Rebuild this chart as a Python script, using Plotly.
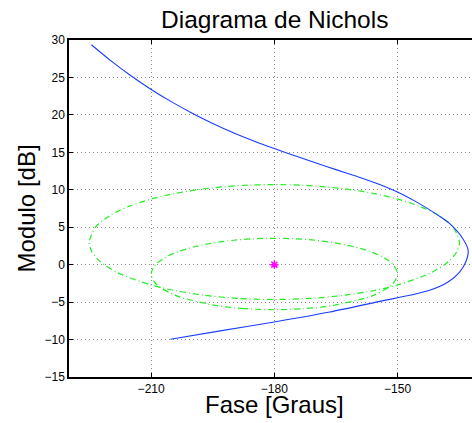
import plotly.graph_objects as go

# Open-loop frequency response (phase in degrees, magnitude in dB)
loop_phase = [-224.55, -220.0, -215.0, -210.0, -205.0, -200.0, -195.0, -190.0, -185.0,
              -180.0, -175.0, -170.0, -165.0, -160.0, -155.0, -150.0, -145.0, -140.0,
              -137.3, -134.1, -132.8, -133.4, -134.9, -137.7, -142.2, -147.0, -154.3,
              -166.5, -180.0, -192.8, -205.3]
loop_mag = [29.37, 27.32, 25.26, 23.40, 21.74, 20.23, 18.86, 17.62, 16.52,
            15.50, 14.53, 13.60, 12.69, 11.80, 10.85, 9.70, 8.25, 6.55,
            5.47, 3.47, 1.9, 0.35, -0.99, -2.32, -3.43, -4.09, -4.9,
            -6.32, -7.65, -8.81, -9.96]

# Outer dash-dot contour
outer_phase = [-180.0, -188.97, -197.23, -204.32, -210.10, -218.08, -222.46, -224.52, -225.07,
               -223.50, -219.94, -215.30, -210.03, -204.37, -198.45, -192.38, -186.21, -180.0,
               -173.79, -167.62, -161.55, -155.63, -149.97, -144.70, -140.06, -136.50, -134.93,
               -135.48, -137.54, -141.92, -149.90, -155.68, -162.77, -171.03, -180.0]
outer_mag = [-4.65, -4.50, -4.07, -3.45, -2.70, -1.10, 0.44, 1.82, 3.03,
             5.04, 6.59, 7.81, 8.75, 9.49, 10.03, 10.40, 10.62, 10.69,
             10.62, 10.40, 10.03, 9.49, 8.75, 7.81, 6.59, 5.04, 3.03,
             1.82, 0.44, -1.10, -2.70, -3.45, -4.07, -4.50, -4.65]

# Inner dash-dot contour
inner_phase = [-180.0, -187.37, -194.05, -203.8, -208.7, -210.0, -209.0, -206.57, -203.15,
               -199.1, -194.64, -189.9, -184.99, -180.0, -175.01, -170.1, -165.36, -160.9,
               -156.85, -153.43, -151.0, -150.0, -151.3, -156.2, -165.95, -172.63, -180.0]
inner_mag = [-6.02, -5.87, -5.47, -4.16, -2.65, -1.25, -0.04, 0.97, 1.79,
             2.43, 2.92, 3.26, 3.46, 3.52, 3.46, 3.26, 2.92, 2.43,
             1.79, 0.97, -0.04, -1.25, -2.65, -4.16, -5.47, -5.87, -6.02]

# Critical point
crit_phase = [-180.0]
crit_mag = [0.0]

x_ticks = [-210, -180, -150]
y_ticks = [-15, -10, -5, 0, 5, 10, 15, 20, 25, 30]

FONT = "Liberation Sans, Arial, Helvetica, sans-serif"
GREEN = "#22ee22"
DASHDOT = "6px,3px,1px,3px"

fig = go.Figure()
fig.add_trace(go.Scatter(x=outer_phase, y=outer_mag, mode="lines",
                         line=dict(color=GREEN, width=1.2, dash=DASHDOT, shape="spline", smoothing=0.8),
                         hoverinfo="skip"))
fig.add_trace(go.Scatter(x=inner_phase, y=inner_mag, mode="lines",
                         line=dict(color=GREEN, width=1.2, dash=DASHDOT, shape="spline", smoothing=0.8),
                         hoverinfo="skip"))
fig.add_trace(go.Scatter(x=loop_phase, y=loop_mag, mode="lines",
                         line=dict(color="#1a3cff", width=1.1, shape="spline", smoothing=0.8)))
fig.add_trace(go.Scatter(x=crit_phase, y=crit_mag, mode="markers",
                         marker=dict(symbol="asterisk-open", size=7, color="#ff00ff",
                                     line=dict(color="#ff00ff", width=1.5))))

W, H = 472, 423
L, T, B = 69, 40, 46
PH = H - T - B
fig.update_layout(
    width=W, height=H,
    margin=dict(l=L, r=0, t=T, b=B, autoexpand=False),
    paper_bgcolor="white", plot_bgcolor="white",
    showlegend=False,
    font=dict(family=FONT, color="black", size=12),
    xaxis=dict(range=[-230, -230 + (W - L) / 4.107], tickvals=x_ticks,
               ticks="inside", ticklen=4, tickcolor="black", tickwidth=1,
               showline=True, linecolor="black", linewidth=1.5, mirror="ticks",
               showgrid=True, gridcolor="#8a8a8a", gridwidth=1, griddash="1px,3px",
               zeroline=False, tickfont=dict(size=12, family=FONT)),
    yaxis=dict(range=[-15, 30], tickvals=y_ticks,
               ticks="inside", ticklen=4, tickcolor="black", tickwidth=1,
               showline=True, linecolor="black", linewidth=1.5,
               showgrid=True, gridcolor="#8a8a8a", gridwidth=1, griddash="1px,3px",
               zeroline=False, tickfont=dict(size=12, family=FONT)),
    annotations=[
        dict(text="Diagrama de Nichols", x=-180, xref="x", y=1 + (T - 20) / PH, yref="paper",
             showarrow=False, font=dict(size=24.5, family=FONT), xanchor="center", yanchor="middle"),
        dict(text="Fase [Graus]", x=-180, xref="x", y=-(404 - (H - B)) / PH, yref="paper",
             showarrow=False, font=dict(size=24, family=FONT), xanchor="center", yanchor="middle"),
        dict(text="Modulo [dB]", x=-(L - 26) / (W - L), xref="paper", y=0.5, yref="paper",
             showarrow=False, textangle=-90, font=dict(size=24, family=FONT),
             xanchor="center", yanchor="middle"),
    ],
)

fig.write_html("out.html", config={"displayModeBar": False},
               post_script="document.body.style.margin='0';document.body.style.padding='0';"
                           "document.body.style.overflow='hidden';")
